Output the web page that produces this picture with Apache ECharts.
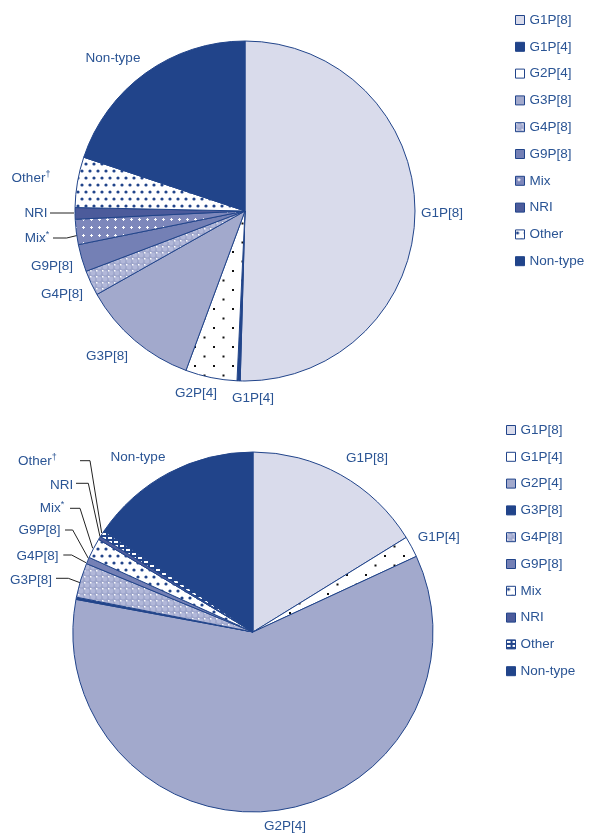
<!DOCTYPE html>
<html><head><meta charset="utf-8">
<script src="https://cdn.jsdelivr.net/npm/echarts@6/dist/echarts.min.js"></script>
<style>html,body{margin:0;padding:0;background:#fff}#c{width:590px;height:833px}</style>
</head><body><div id="c"></div>
<script>
// ---------- data ----------
const categories = ['G1P[8]','G1P[4]','G2P[4]','G3P[8]','G4P[8]','G9P[8]','Mix','NRI','Other','Non-type'];
const topValues =    [50.5, 0.3, 4.9, 11.2, 2.4, 2.6, 2.4, 1.1, 4.8, 19.9];
const bottomValues = [16.2, 1.9, 59.8, 0.2, 3.1, 0.6, 1.8, 0.3, 0.6, 15.5];
const topLabelText =    ['G1P[8]','G1P[4]','G2P[4]','G3P[8]','G4P[8]','G9P[8]','Mix{sup|*}','NRI','Other{sup|†}','Non-type'];
const bottomLabelText = ['G1P[8]','G1P[4]','G2P[4]','G3P[8]','G4P[8]','G9P[8]','Mix{sup|*}','NRI','Other{sup|†}','Non-type'];

// ---------- label placement (annotation layout, not data) ----------
const topLabelPos = [[442,213],[253,398],[196,393],[107,356],[62,294],[52,266],[37,238],[36,213],[31,178],[113,58]];
const topLeader = { 6: [[77,235.5],[66.7,238],[53,238]], 7: [[74,213],[62,213],[50,213]] };
const botLabelPos = [[367,458],[438.7,537],[285,826],[31,580],[37.5,556.7],[39.5,530.7],[52,508.3],[61.7,485],[37.3,461.5],[138,457.3]];
const botLeader = {
  3: [[80,582.7],[68.3,578.3],[56,578.3]],
  4: [[86,562.7],[71.7,555],[63.3,555]],
  5: [[88.3,558.3],[72.7,530],[65,530]],
  6: [[92.7,548.3],[80,508.3],[70,508.3]],
  7: [[100,536.7],[88.3,483.3],[76,483.3]],
  8: [[101.7,533],[90,460.7],[80,460.7]]
};

// ---------- styles ----------
const NAVY = '#21448a', LIGHT = '#d9dbeb', MED = '#a2a9cc', G9 = '#7480b5', NRIC = '#4c5b9b', TXT = '#2a5494';
function pattern(w, h, bg, draw) {
  const c = document.createElement('canvas'); c.width = w; c.height = h;
  const x = c.getContext('2d'); x.fillStyle = bg; x.fillRect(0, 0, w, h); draw(x);
  return { image: c, repeat: 'repeat' };
}
const dotsBlack = pattern(19, 19, '#ffffff', x => { x.fillStyle = '#111'; x.fillRect(4, 4, 2, 2); x.fillRect(13.5, 13.5, 2, 2); });
const navyDots = pattern(8, 14, '#ffffff', x => { x.fillStyle = NAVY; x.beginPath(); x.arc(2, 3, 1.6, 0, 7); x.fill(); x.beginPath(); x.arc(6, 10, 1.6, 0, 7); x.fill(); });
const circles = pattern(6, 6, '#9ea6cb', x => { x.fillStyle = '#b2b8d9'; x.beginPath(); x.arc(3, 3, 2.4, 0, 7); x.fill(); x.fillStyle = '#ffffff'; x.fillRect(0, 0, 1.5, 1.5); });
const plus = pattern(8, 8, '#7d87bb', x => { x.fillStyle = '#ffffff'; x.fillRect(3, 2, 1, 3); x.fillRect(2, 3, 3, 1); });
const stripes = pattern(6, 4, NAVY, x => { x.fillStyle = '#ffffff'; x.fillRect(0, 1, 4, 2); });

const topColors =    [LIGHT, NAVY, dotsBlack, MED, circles, G9, plus, NRIC, navyDots, NAVY];
const bottomColors = [LIGHT, dotsBlack, MED, NAVY, circles, G9, navyDots, NRIC, stripes, NAVY];
const topLegendColors =    [LIGHT, NAVY, '#ffffff', MED, circles, G9, plus, NRIC, navyDots, NAVY];
const bottomLegendColors = [LIGHT, '#ffffff', MED, NAVY, circles, G9, navyDots, NRIC, stripes, NAVY];

const FONT = '"Liberation Sans", Arial, sans-serif';
const labelBase = { show: true, position: 'outside', color: TXT, fontSize: 13.5, fontFamily: FONT, overflow: 'none',
  rich: { sup: { fontSize: 9, color: TXT, fontFamily: FONT, padding: [0, 0, 7, 0] } } };

function buildData(values, colors, leaders) {
  return categories.map((n, i) => ({
    name: n, value: values[i],
    itemStyle: { color: colors[i] },
    labelLine: { show: !!leaders[i] }
  }));
}
function layoutFn(pos, leaders) {
  return p => {
    const i = p.dataIndex;
    const r = { x: pos[i][0], y: pos[i][1], align: 'center', verticalAlign: 'middle' };
    if (leaders[i]) r.labelLinePoints = leaders[i];
    return r;
  };
}
function legendData(colors) {
  return categories.map((n, i) => ({ name: n, itemStyle: { color: colors[i], borderColor: NAVY, borderWidth: 1 } }));
}
const legendBase = { orient: 'vertical', icon: 'rect', itemWidth: 9, itemHeight: 9, itemGap: 12.8, selectedMode: false,
  textStyle: { color: TXT, fontSize: 13.5, fontFamily: FONT, lineHeight: 14 } };

const chart = echarts.init(document.getElementById('c'), null, { renderer: 'canvas' });
chart.setOption({
  animation: false,
  legend: [
    Object.assign({}, legendBase, { left: 510, top: 8, data: legendData(topLegendColors) }),
    Object.assign({}, legendBase, { left: 501, top: 418, data: legendData(bottomLegendColors) })
  ],
  series: [
    { type: 'pie', center: [245, 211], radius: 170, startAngle: 90, clockwise: true,
      avoidLabelOverlap: false, legendHoverLink: false,
      itemStyle: { borderColor: NAVY, borderWidth: 1 },
      label: Object.assign({}, labelBase, { formatter: p => topLabelText[p.dataIndex] }),
      labelLine: { length: 4, length2: 4, lineStyle: { color: '#222', width: 1 } },
      labelLayout: layoutFn(topLabelPos, topLeader),
      emphasis: { disabled: true },
      data: buildData(topValues, topColors, topLeader) },
    { type: 'pie', center: [253, 632], radius: 180, startAngle: 90, clockwise: true,
      avoidLabelOverlap: false, legendHoverLink: false,
      itemStyle: { borderColor: NAVY, borderWidth: 1 },
      label: Object.assign({}, labelBase, { formatter: p => bottomLabelText[p.dataIndex] }),
      labelLine: { length: 4, length2: 4, lineStyle: { color: '#222', width: 1 } },
      labelLayout: layoutFn(botLabelPos, botLeader),
      emphasis: { disabled: true },
      data: buildData(bottomValues, bottomColors, botLeader) }
  ]
});
</script></body></html>
